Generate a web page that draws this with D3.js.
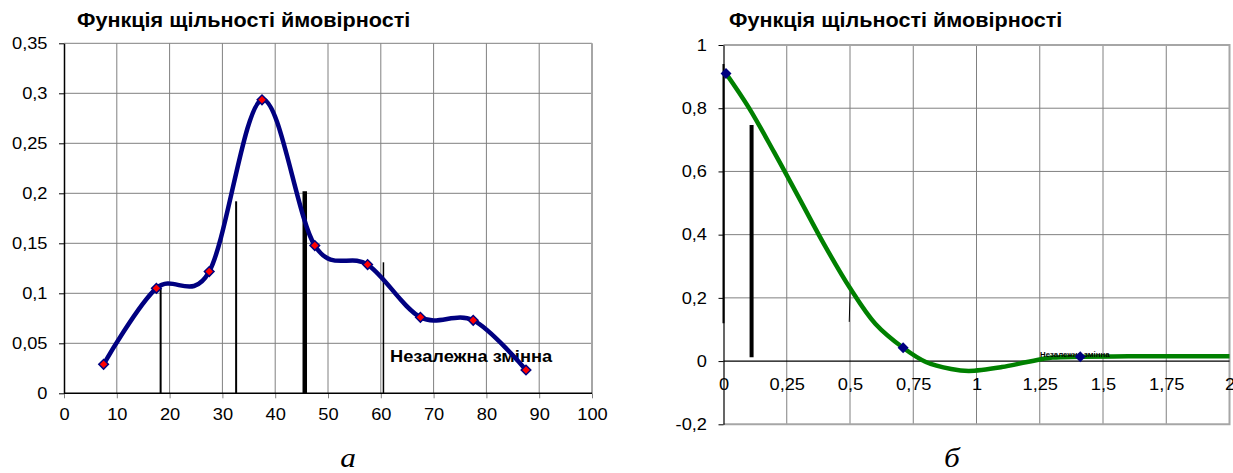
<!DOCTYPE html>
<html>
<head>
<meta charset="utf-8">
<script src="https://cdn.jsdelivr.net/npm/d3@7"></script>
<style>
    body { margin: 0; background: #fff; }
    svg { display: block; }
</style>
</head>
<body>
<svg width="1233" height="473"></svg>
<script>
// ---- Left chart data
const leftX = [7.5, 17.5, 27.5, 37.5, 47.5, 57.5, 67.5, 77.5, 87.5];
const leftY = [0.029, 0.105, 0.1217, 0.2935, 0.1477, 0.1287, 0.076, 0.073, 0.0233];
const leftXTicks = [0, 10, 20, 30, 40, 50, 60, 70, 80, 90, 100];
const leftYTicks = [0, 0.05, 0.1, 0.15, 0.2, 0.25, 0.3, 0.35];
const leftSpikeX = [18.3, 32.6, 45.6, 60.5];
const leftSpikeTop = [0.105, 0.192, 0.202, 0.131];

// ---- Right chart data
const rightCurveX = [0.01, 0.1, 0.2, 0.3, 0.4, 0.5, 0.6, 0.71, 0.8, 0.9, 0.97, 1.1, 1.2, 1.3, 1.41, 1.6, 1.8, 2.0];
const rightCurveY = [0.91, 0.802, 0.661, 0.514, 0.366, 0.231, 0.118, 0.042, -0.003, -0.025, -0.031, -0.019, -0.003, 0.011, 0.0136, 0.015, 0.015, 0.015];
const rightMarkX = [0.01, 0.71, 1.41];
const rightMarkY = [0.91, 0.042, 0.0136];
const rightXTicks = [0, 0.25, 0.5, 0.75, 1, 1.25, 1.5, 1.75, 2];
const rightYTicks = [-0.2, 0, 0.2, 0.4, 0.6, 0.8, 1];
const rightSpikeX0 = [0, 0.111, 0.501];
const rightSpikeX1 = [0, 0.111, 0.497];
const rightSpikeY0 = [0.94, 0.747, 0.235];
const rightSpikeY1 = [0.12, 0.012, 0.124];

const titleText = 'Функція щільності ймовірності';
const xLabelText = 'Незалежна змінна';
const subLabels = ['а', 'б'];

// ---- Common look
const SX = 1.12;  // the source picture is stretched horizontally a bit
const SANS = '"Liberation Sans", Arial, sans-serif';
const SERIF = '"Liberation Serif", "Times New Roman", serif';
const GRID = '#808080';
const BORDER = '#a6a6a6';
const fmt = d => String(d).replace('.', ',');

const svg = d3.select('svg');

function addText(g, str, x, y, size, opts = {}) {
    return g.append('text')
        .attr('transform', `translate(${x},${y}) scale(${SX},1)`)
        .attr('text-anchor', opts.anchor || 'start')
        .style('font-family', opts.family || SANS)
        .style('font-size', size + 'px')
        .style('font-weight', opts.bold ? 'bold' : 'normal')
        .style('font-style', opts.italic ? 'italic' : 'normal')
        .attr('fill', '#000')
        .text(str);
}

function styleAxisText(axisG, horizontal) {
    axisG.attr('font-family', SANS).attr('font-size', 16.3);
    axisG.selectAll('.tick text')
        .attr('fill', '#000')
        .each(function () {
            const t = d3.select(this);
            if (!horizontal) t.attr('x', +t.attr('x') / SX);
            t.attr('transform', `scale(${SX},1)`);
        });
}

function diamond(size) {
    return d3.symbol(d3.symbolSquare, size)();
}

// =================== LEFT CHART ===================
const lx = d3.scaleLinear().domain([0, 100]).range([64, 592]);
const ly = d3.scaleLinear().domain([0, 0.35]).range([393.3, 43.3]);
const left = svg.append('g');

// grid
left.selectAll('.hgrid')
    .data(leftYTicks.filter(d => d > 0))
    .join('line')
    .attr('x1', lx(0)).attr('x2', lx(100))
    .attr('y1', d => ly(d)).attr('y2', d => ly(d))
    .attr('stroke', GRID).attr('stroke-width', 1);

left.selectAll('.vgrid')
    .data(leftXTicks.filter(d => d > 0 && d < 100))
    .join('line')
    .attr('x1', d => lx(d)).attr('x2', d => lx(d))
    .attr('y1', ly(0.35)).attr('y2', ly(0))
    .attr('stroke', GRID).attr('stroke-width', 1);

left.append('line')
    .attr('x1', lx(100)).attr('x2', lx(100))
    .attr('y1', ly(0.35)).attr('y2', ly(0))
    .attr('stroke', BORDER).attr('stroke-width', 2);

// x axis
const lxAxis = left.append('g')
    .attr('transform', `translate(0,${ly(0)})`)
    .call(d3.axisBottom(lx).tickValues(leftXTicks).tickSize(5).tickSizeOuter(0).tickPadding(10).tickFormat(fmt));
lxAxis.select('.domain').remove();
lxAxis.selectAll('.tick line').attr('stroke', GRID);
styleAxisText(lxAxis, true);

left.append('line')
    .attr('x1', lx(0)).attr('x2', lx(100))
    .attr('y1', ly(0)).attr('y2', ly(0))
    .attr('stroke', '#000').attr('stroke-width', 1.5);

// y axis
const lyAxis = left.append('g')
    .attr('transform', `translate(${lx(0)},0)`)
    .call(d3.axisLeft(ly).tickValues(leftYTicks).tickSize(5).tickSizeOuter(0).tickPadding(11.5).tickFormat(fmt));
lyAxis.select('.domain').attr('stroke-width', 1.5);
styleAxisText(lyAxis, false);

// stray vertical strokes
const leftSpikeW = [2, 2, 4.5, 1.5];
left.selectAll('.spike')
    .data(leftSpikeX)
    .join('line')
    .attr('x1', d => lx(d)).attr('x2', d => lx(d))
    .attr('y1', (d, i) => ly(leftSpikeTop[i])).attr('y2', ly(0))
    .attr('stroke', '#000')
    .attr('stroke-width', (d, i) => leftSpikeW[i]);

addText(left, xLabelText, 390, 361.7, 16.3, { bold: true });

// curve
const leftPts = leftX.map((d, i) => [d, leftY[i]]);
left.append('path')
    .datum(leftPts)
    .attr('d', d3.line().x(d => lx(d[0])).y(d => ly(d[1])).curve(d3.curveCardinal))
    .attr('fill', 'none')
    .attr('stroke', '#000080')
    .attr('stroke-width', 4.5)
    .attr('stroke-linejoin', 'round');

left.selectAll('.mark')
    .data(leftPts)
    .join('path')
    .attr('d', diamond(46))
    .attr('transform', d => `translate(${lx(d[0])},${ly(d[1])}) rotate(45)`)
    .attr('fill', '#ff0000')
    .attr('stroke', '#000080')
    .attr('stroke-width', 1.5);

addText(left, titleText, 77, 27, 19.3, { bold: true });
addText(left, subLabels[0], 348, 467, 28, { family: SERIF, italic: true, anchor: 'middle' });

// =================== RIGHT CHART ===================
const rx = d3.scaleLinear().domain([0, 2]).range([723.5, 1229.5]);
const ry = d3.scaleLinear().domain([-0.2, 1]).range([424.3, 45]);
const right = svg.append('g');

right.selectAll('.hgrid')
    .data(rightYTicks.filter(d => d > -0.2 && d < 1 && d !== 0))
    .join('line')
    .attr('x1', rx(0)).attr('x2', rx(2))
    .attr('y1', d => ry(d)).attr('y2', d => ry(d))
    .attr('stroke', GRID).attr('stroke-width', 1);

right.selectAll('.vgrid')
    .data(rightXTicks.filter(d => d > 0 && d < 2))
    .join('line')
    .attr('x1', d => rx(d)).attr('x2', d => rx(d))
    .attr('y1', ry(1)).attr('y2', ry(-0.2))
    .attr('stroke', GRID).attr('stroke-width', 1);

// plot border (top, right, bottom)
right.append('path')
    .attr('d', `M${rx(0)},${ry(1)}H${rx(2)}V${ry(-0.2)}H${rx(0)}`)
    .attr('fill', 'none')
    .attr('stroke', BORDER)
    .attr('stroke-width', 2);

// x axis at zero, labels just below it
const rxAxis = right.append('g')
    .attr('transform', `translate(0,${ry(0)})`)
    .call(d3.axisBottom(rx).tickValues(rightXTicks).tickSize(0).tickPadding(17).tickFormat(fmt));
rxAxis.select('.domain').remove();
styleAxisText(rxAxis, true);

right.append('line')
    .attr('x1', rx(0)).attr('x2', rx(2))
    .attr('y1', ry(0)).attr('y2', ry(0))
    .attr('stroke', '#000').attr('stroke-width', 1.3);

const ryAxis = right.append('g')
    .attr('transform', `translate(${rx(0)},0)`)
    .call(d3.axisLeft(ry).tickValues(rightYTicks).tickSize(5).tickSizeOuter(0).tickPadding(11.5).tickFormat(fmt));
ryAxis.select('.domain').attr('stroke-width', 1.2);
styleAxisText(ryAxis, false);

const rightSpikeW = [2, 4, 1];
right.selectAll('.spike')
    .data(rightSpikeX0)
    .join('line')
    .attr('x1', d => rx(d)).attr('x2', (d, i) => rx(rightSpikeX1[i]))
    .attr('y1', (d, i) => ry(rightSpikeY0[i])).attr('y2', (d, i) => ry(rightSpikeY1[i]))
    .attr('stroke', '#000')
    .attr('stroke-width', (d, i) => rightSpikeW[i]);

const rightPts = rightCurveX.map((d, i) => [d, rightCurveY[i]]);
right.append('path')
    .datum(rightPts)
    .attr('d', d3.line().x(d => rx(d[0])).y(d => ry(d[1])).curve(d3.curveCatmullRom))
    .attr('fill', 'none')
    .attr('stroke', '#008000')
    .attr('stroke-width', 4.5)
    .attr('stroke-linejoin', 'round');

addText(right, xLabelText, 1040, 356.7, 7, { bold: true });

right.selectAll('.mark')
    .data(rightMarkX.map((d, i) => [d, rightMarkY[i]]))
    .join('path')
    .attr('d', diamond(60))
    .attr('transform', d => `translate(${rx(d[0])},${ry(d[1])}) rotate(45)`)
    .attr('fill', '#000080');

addText(right, titleText, 729, 27, 19.3, { bold: true });
addText(right, subLabels[1], 952, 467, 28, { family: SERIF, italic: true, anchor: 'middle' });
</script>
</body>
</html>
